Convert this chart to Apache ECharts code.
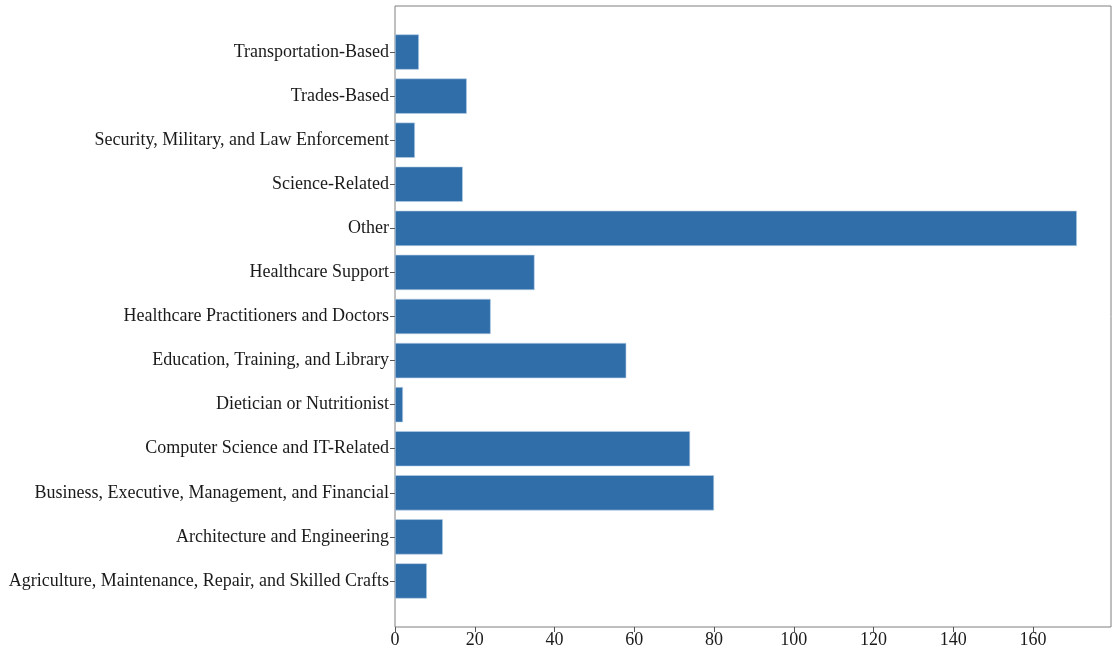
<!DOCTYPE html>
<html>
<head>
<meta charset="utf-8">
<script src="https://cdn.jsdelivr.net/npm/echarts@6/dist/echarts.min.js"></script>
<style>
    html, body { margin: 0; padding: 0; background: #fff; }
    #chart { width: 1115px; height: 653px; }
</style>
</head>
<body>
<div id="chart"></div>
<script>
// 类别（自下而上）
const categories = [
    'Agriculture, Maintenance, Repair, and Skilled Crafts',
    'Architecture and Engineering',
    'Business, Executive, Management, and Financial',
    'Computer Science and IT-Related',
    'Dietician or Nutritionist',
    'Education, Training, and Library',
    'Healthcare Practitioners and Doctors',
    'Healthcare Support',
    'Other',
    'Science-Related',
    'Security, Military, and Law Enforcement',
    'Trades-Based',
    'Transportation-Based'
];
const counts = [8, 12, 80, 74, 2, 58, 24, 35, 171, 17, 5, 18, 6];
const xTicks = [0, 20, 40, 60, 80, 100, 120, 140, 160];

const font = 'Liberation Serif, Times New Roman, serif';
const xMax = 179.55;

const chart = echarts.init(document.getElementById('chart'));

const option = {
    backgroundColor: '#fff',
    animation: false,
    grid: [
        // 外框
        { left: 395, right: 4, top: 6, bottom: 26, show: true, borderColor: '#7f7f7f', borderWidth: 1, backgroundColor: 'transparent' },
        // 数据区域
        { left: 395, right: 4, top: 30, bottom: 50 }
    ],
    xAxis: [
        { gridIndex: 0, type: 'value', min: 0, max: xMax, show: false },
        {
            gridIndex: 1,
            type: 'value',
            min: 0,
            max: xMax,
            offset: 24,
            axisLine: { show: false },
            axisTick: { show: true, length: 5, lineStyle: { color: '#555' }, customValues: xTicks },
            splitLine: { show: false },
            axisLabel: {
                color: '#1a1a1a',
                fontFamily: font,
                fontSize: 18,
                margin: 4,
                customValues: xTicks
            }
        }
    ],
    yAxis: [
        { gridIndex: 0, type: 'value', show: false },
        {
            gridIndex: 1,
            type: 'category',
            data: categories,
            axisLine: { show: false },
            axisTick: { show: true, alignWithLabel: true, length: 5, lineStyle: { color: '#555' } },
            axisLabel: {
                color: '#1a1a1a',
                fontFamily: font,
                fontSize: 18,
                margin: 6,
                padding: [3, 0, 0, 0]
            }
        }
    ],
    series: [
        {
            type: 'bar',
            xAxisIndex: 1,
            yAxisIndex: 1,
            data: counts,
            barWidth: '80%',
            itemStyle: {
                color: '#2f6ea9',
                borderColor: '#b9d0e6',
                borderWidth: 0.6
            }
        }
    ]
};

chart.setOption(option);
</script>
</body>
</html>
